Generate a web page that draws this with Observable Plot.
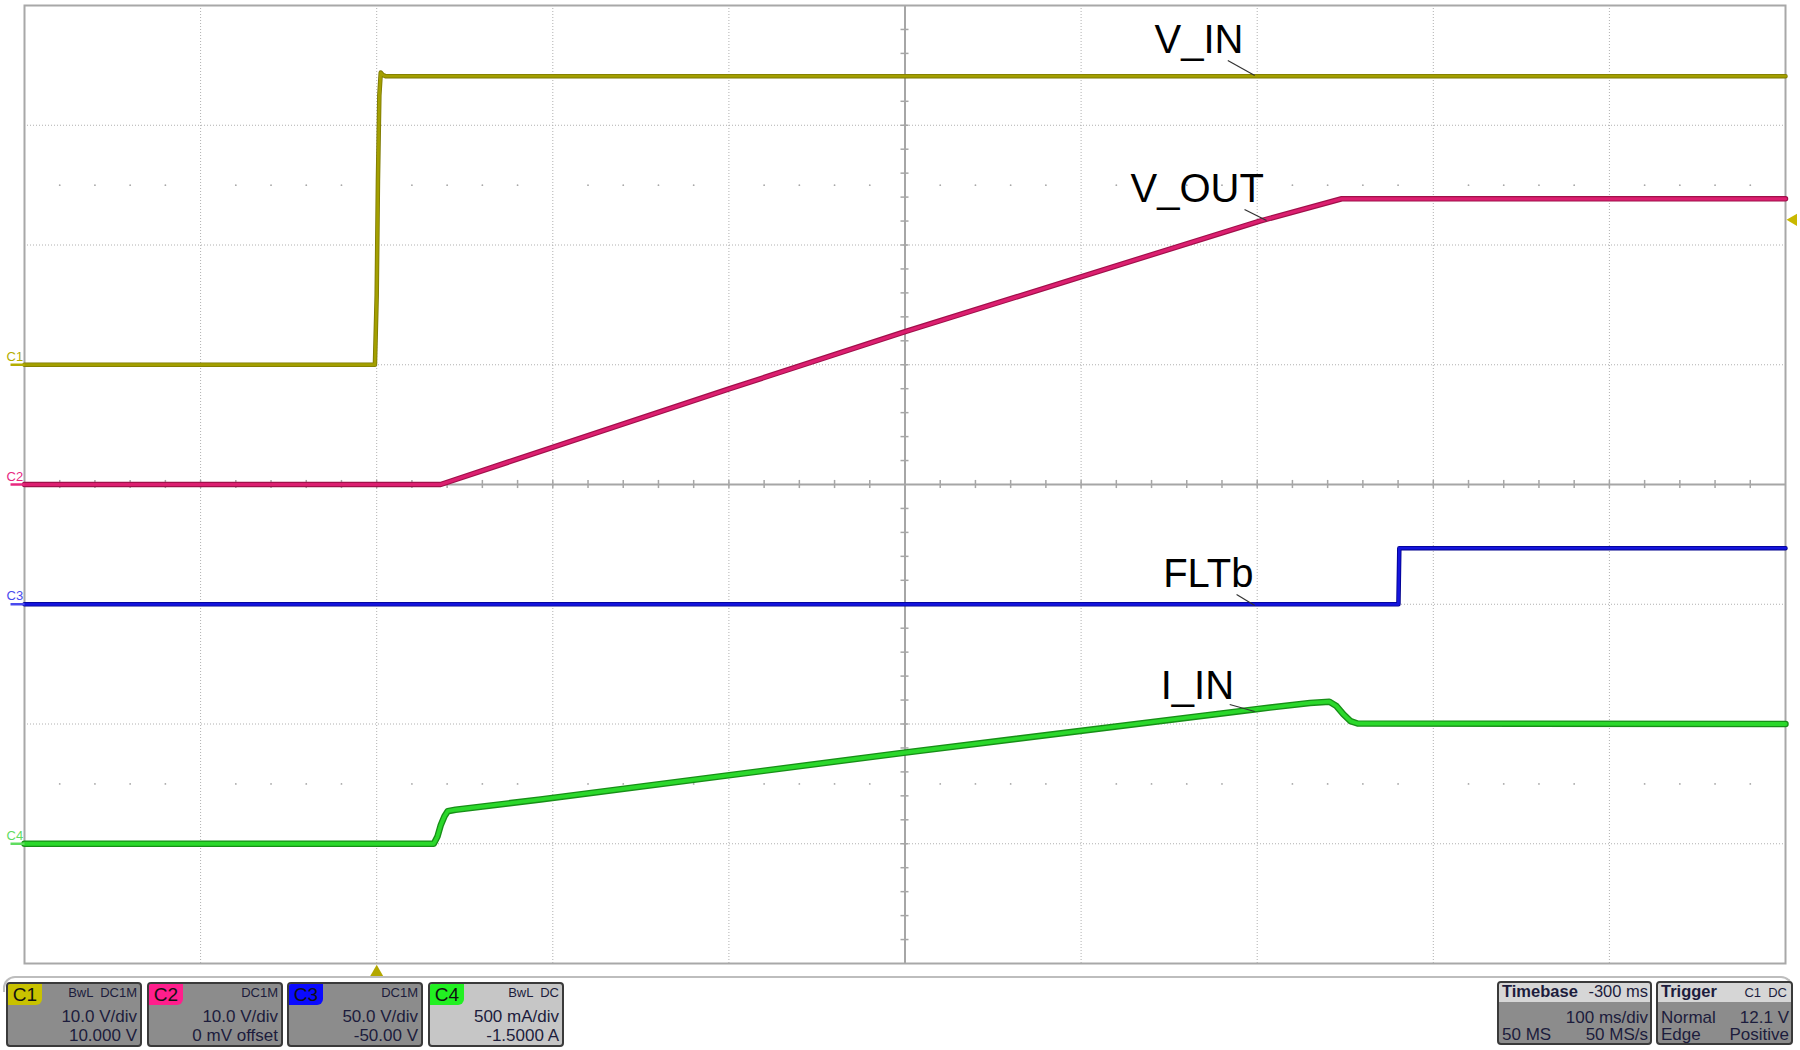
<!DOCTYPE html>
<html>
<head>
<meta charset="utf-8">
<script src="https://cdn.jsdelivr.net/npm/d3@7"></script>
<script src="https://cdn.jsdelivr.net/npm/@observablehq/plot@0.6"></script>
<style>
html, body { margin: 0; padding: 0; background: #fff; }
#wrap { position: relative; width: 1800px; height: 1050px; overflow: hidden; font-family: "Liberation Sans", Arial, sans-serif; }
#chart svg { display: block; }
.box { position: absolute; box-sizing: border-box; border: 2px solid #3a3a3a; border-radius: 4px; color: #1c1c3c; overflow: hidden; }
.tag { position: absolute; left: 0; top: 0; width: 34px; height: 21px; border-bottom-right-radius: 6px; font-size: 19px; line-height: 22px; text-align: center; color: #111; }
.t { position: absolute; white-space: pre; font-size: 17px; line-height: 17px; }
.s { position: absolute; white-space: pre; font-size: 13px; line-height: 13px; }
.hdr { position: absolute; left: 0; top: 0; right: 0; height: 19px; background: #d6d6d6; }
.h { position: absolute; white-space: pre; font-size: 16.5px; line-height: 17px; top: 0; }
#frameline { position: absolute; left: 3px; top: 976px; width: 1790px; height: 16px; box-sizing: border-box; border: 2px solid #bdbdbd; border-bottom: none; border-radius: 12px 12px 0 0; }
</style>
</head>
<body>
<div id="wrap">
  <div id="chart"></div>
  <div id="frameline"></div>
  <div id="panel"></div>
</div>
<script>
// ---------- channel settings (from the info boxes) ----------
const channelNames   = ["C1", "C2", "C3", "C4"];
const channelScale   = [10, 10, 50, 0.5];        // units per division
const channelOffset  = [10, 0, -50, -1.5];       // offset in units
const channelColors  = ["#a39f00", "#dc1f70", "#1414dc", "#2bd82b"];
const channelEdge    = ["#7d7900", "#a0104a", "#00008c", "#178f17"];
const markerColors   = ["#b3ad00", "#e8287f", "#4a4aee", "#5fdc5f"];
const tagColors      = ["#c9c200", "#ff1e8c", "#0a0aff", "#22f022"];
const boxFills       = ["#8c8c8c", "#8c8c8c", "#8c8c8c", "#c6c6c6"];
const couplingLabels = ["BwL  DC1M", "DC1M", "DC1M", "BwL  DC"];
const scaleLabels    = ["10.0 V/div", "10.0 V/div", "50.0 V/div", "500 mA/div"];
const offsetLabels   = ["10.000 V", "0 mV offset", "-50.00 V", "-1.5000 A"];

// ---------- timebase / trigger ----------
const timeDomain = [-200, 800];                   // ms (trigger at 0, 100 ms/div)
const timebaseHeader = ["Timebase", "-300 ms"];
const timebaseRows = [["", "100 ms/div"], ["50 MS", "50 MS/s"]];
const triggerHeader = ["Trigger", "C1  DC"];
const triggerRows = [["Normal", "12.1 V"], ["Edge", "Positive"]];
const triggerLevel = 12.1;                         // V on C1
const triggerTime = 0;                             // ms

// ---------- traces (time in ms, values in channel units) ----------
const vinTime  = [-200, -1, 0, 0.7, 1.5, 2.3, 3.5, 5, 800];
const vinVolts = [0, 0, 5.8, 15.3, 22.5, 24.4, 24.2, 24.1, 24.1];

const voutTime  = [-200, 36.3, 200.5, 300.9, 501.5, 548, 800];
const voutVolts = [0, 0, 8.0, 12.8, 22.0, 23.86, 23.86];

const fltTime  = [-200, 580.2, 580.7, 800];
const fltVolts = [0, 0, 23.4, 23.4];

const iinTime = [-200, 32.4, 34.5, 36.3, 38.5, 40.3, 44.8, 93.1, 300.4, 500.6, 530, 541, 545, 549, 553, 557, 800];
const iinAmps = [0, 0, 0.03, 0.076, 0.115, 0.136, 0.142, 0.185, 0.381, 0.563, 0.588, 0.593, 0.575, 0.54, 0.512, 0.502, 0.5];

// ---------- annotations (ms, divisions) ----------
const traceLabels = ["V_IN", "V_OUT", "FLTb", "I_IN"];
const labelTime   = [441.7, 428.1, 446.6, 445.2];
const labelDiv    = [3.607, 2.355, -0.852, -1.795];
const leaderT1 = [483.3, 492.8, 488.3, 484.4];
const leaderD1 = [3.541, 2.297, -0.919, -1.837];
const leaderT2 = [498.6, 505.3, 498.6, 498.6];
const leaderD2 = [3.415, 2.205, -1.010, -1.896];

// ---------- graticule ----------
const gridTimes = [-100, 0, 100, 200, 400, 500, 600, 700];
const gridDivs  = [-3, -2, -1, 1, 2, 3];
const centerTime = 300;
const dotRowDivs = [2.5, -2.5];

// ---------- build ----------
const toDiv = (v, i) => (v + channelOffset[i]) / channelScale[i];
const traceSeries = [
  [vinTime, vinVolts], [voutTime, voutVolts], [fltTime, fltVolts], [iinTime, iinAmps]
].map(([T, V], i) => T.map((t, k) => ({t, d: toDiv(V[k], i)})));

const minorTimes = d3.range(-200, 801, 20).filter(t => t > -200 && t < 800 && t !== centerTime);
const minorDivs  = d3.range(-4, 4.001, 0.2).map(v => Math.round(v * 10) / 10).filter(v => v > -4 && v < 4 && v !== 0);
const dotRows = dotRowDivs.flatMap(d => minorTimes.filter(t => t % 100 !== 0).map(t => ({t, d})));

const labels = traceLabels.map((name, i) => ({name, t: labelTime[i], d: labelDiv[i]}));
const leaders = traceLabels.map((name, i) => ({x1: leaderT1[i], y1: leaderD1[i], x2: leaderT2[i], y2: leaderD2[i]}));
const markers = channelNames.map((name, i) => ({name, d: toDiv(0, i), color: markerColors[i]}));

const gridStyle = {stroke: "#b0b0b0", strokeWidth: 1, strokeDasharray: "1,2"};
const axisColor = "#a6a6a6";
const pxPerMs = 1761 / 1000;
const edgeWidths = [4.5, 5.5, 4.5, 6.5];
const coreWidths = [2.8, 3.2, 2.8, 3.8];

const traceMarks = traceSeries.flatMap((data, i) => [
  Plot.line(data, {x: "t", y: "d", stroke: channelEdge[i], strokeWidth: edgeWidths[i]}),
  Plot.line(data, {x: "t", y: "d", stroke: channelColors[i], strokeWidth: coreWidths[i]})
]);

const plot = Plot.plot({
  width: 1800, height: 1050,
  marginLeft: 24, marginRight: 15, marginTop: 5, marginBottom: 87,
  x: {domain: timeDomain, axis: null},
  y: {domain: [-4, 4], axis: null},
  style: {background: "white", overflow: "visible"},
  marks: [
    Plot.ruleX(gridTimes, gridStyle),
    Plot.ruleY(gridDivs, gridStyle),
    Plot.dot(dotRows, {x: "t", y: "d", r: 0.9, fill: "#a8a8a8", stroke: null}),
    Plot.ruleX([centerTime], {stroke: axisColor, strokeWidth: 2}),
    Plot.ruleY([0], {stroke: axisColor, strokeWidth: 2}),
    Plot.ruleX(minorTimes, {y1: -0.034, y2: 0.034, stroke: axisColor, strokeWidth: 1.5}),
    Plot.ruleY(minorDivs, {x1: centerTime - 4 / pxPerMs, x2: centerTime + 4 / pxPerMs, stroke: axisColor, strokeWidth: 1.5}),
    Plot.frame({stroke: "#a8a8a8", strokeWidth: 2}),
    ...traceMarks,
    Plot.link(leaders, {x1: "x1", y1: "y1", x2: "x2", y2: "y2", stroke: "#333", strokeWidth: 1.2}),
    Plot.text(labels, {x: "t", y: "d", text: "name", textAnchor: "start", lineAnchor: "bottom",
      fontSize: 40, fontFamily: "Liberation Sans, Arial, sans-serif", fill: "#000"}),
    // channel ground markers on the left
    Plot.link(markers, {x1: () => timeDomain[0] - 14 / pxPerMs, x2: () => timeDomain[0], y1: "d", y2: "d", stroke: "color", strokeWidth: 2.5}),
    Plot.text(markers, {x: () => timeDomain[0], y: "d", text: "name", dx: -18, dy: -4, textAnchor: "start", lineAnchor: "bottom",
      fontSize: 13, fontFamily: "Liberation Sans, Arial, sans-serif", fill: "color"}),
    // trigger position (bottom) and trigger level (right)
    Plot.dot([triggerTime], {x: d => d, y: () => -4, dy: 9, symbol: "triangle", r: 5, fill: "#b3a700", stroke: null}),
    Plot.dot([triggerLevel], {x: () => timeDomain[1], y: v => toDiv(v, 0), dx: 8, symbol: "triangle", r: 4.5, rotate: -90, fill: "#c9b800", stroke: null})
  ]
});
document.getElementById("chart").appendChild(plot);

// ---------- info panel ----------
const panel = document.getElementById("panel");
function el(tag, cls, style, text) {
  const e = document.createElement(tag);
  if (cls) e.className = cls;
  Object.assign(e.style, style || {});
  if (text != null) e.textContent = text;
  return e;
}
channelNames.forEach((name, i) => {
  const box = el("div", "box", {left: Math.round(6 + i * 140.7) + "px", top: "982px", width: "136px", height: "65px", background: boxFills[i]});
  box.appendChild(el("div", "tag", {background: tagColors[i]}, name));
  box.appendChild(el("div", "s", {right: "3px", top: "2px"}, couplingLabels[i]));
  box.appendChild(el("div", "t", {right: "3px", top: "24px"}, scaleLabels[i]));
  box.appendChild(el("div", "t", {right: "3px", top: "43px"}, offsetLabels[i]));
  panel.appendChild(box);
});
function infoBox(left, width, header, rows, smallRight) {
  const box = el("div", "box", {left: left + "px", top: "981px", width: width + "px", height: "64px", background: "#8c8c8c"});
  const hdr = el("div", "hdr");
  hdr.appendChild(el("div", "h", {left: "3px", fontWeight: "bold"}, header[0]));
  hdr.appendChild(el("div", smallRight ? "s" : "h", smallRight ? {right: "4px", top: "3px"} : {right: "2px"}, header[1]));
  box.appendChild(hdr);
  rows.forEach((r, k) => {
    const top = (k === 0 ? 26 : 43) + "px";
    if (r[0]) box.appendChild(el("div", "t", {left: "3px", top}, r[0]));
    box.appendChild(el("div", "t", {right: "2px", top}, r[1]));
  });
  panel.appendChild(box);
}
infoBox(1497, 155, timebaseHeader, timebaseRows, false);
infoBox(1656, 137, triggerHeader, triggerRows, true);
</script>
</body>
</html>
